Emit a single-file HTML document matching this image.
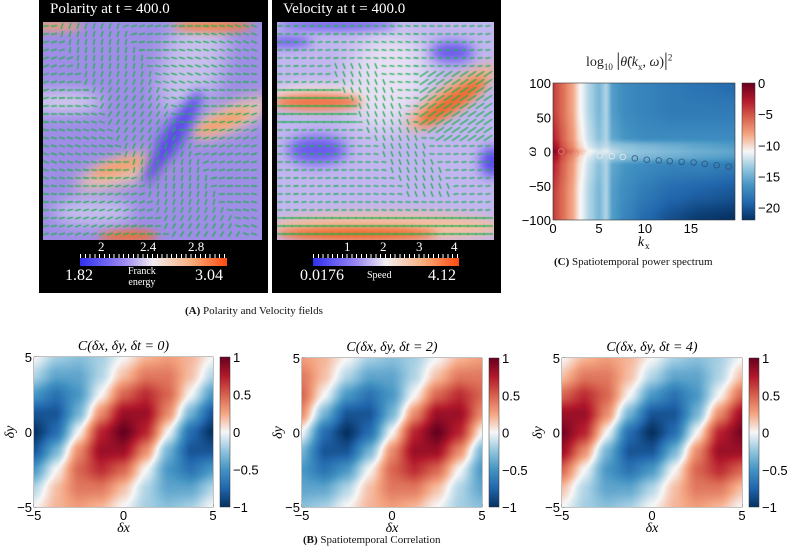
<!DOCTYPE html>
<html><head><meta charset="utf-8">
<style>
body{margin:0;background:#fff;width:787px;height:556px;overflow:hidden;position:relative;font-family:"Liberation Sans",sans-serif;}
.abs{position:absolute;}
.serif{font-family:"Liberation Serif",serif;}
canvas{position:absolute;}
.wt{position:absolute;color:#fff;font-family:"Liberation Serif",serif;}
</style></head><body>
<!-- Panel A -->
<div class="abs" style="left:39px;top:0;width:229px;height:293px;background:#000"></div>
<div class="abs" style="left:272px;top:0;width:229px;height:293px;background:#000"></div>
<div class="wt" style="left:50px;top:1px;font-size:15px">Polarity at t = 400.0</div>
<div class="wt" style="left:283px;top:1px;font-size:15px">Velocity at t = 400.0</div>
<canvas id="pol" width="219" height="218" style="left:43px;top:22px"></canvas>
<canvas id="vel" width="217" height="218" style="left:277px;top:22px"></canvas>
<div class="abs" style="left:80px;top:258px;width:147px;height:8px;background:linear-gradient(90deg,#3030f0,#9c88f0 30%,#f2eef0 50%,#f8b080 75%,#ff4a10)"></div>
<div class="abs" style="left:313px;top:258px;width:146px;height:8px;background:linear-gradient(90deg,#3030f0,#9c88f0 30%,#f2eef0 50%,#f8b080 75%,#ff4a10)"></div>
<div class="abs" style="left:80px;top:254px;width:147px;height:4px;background:repeating-linear-gradient(90deg,#fff 0 1px,transparent 1px 4.8px)"></div>
<div class="abs" style="left:313px;top:254px;width:146px;height:4px;background:repeating-linear-gradient(90deg,#fff 0 1px,transparent 1px 4.8px)"></div>
<div class="wt" style="left:98px;top:239px;font-size:13px">2</div>
<div class="wt" style="left:140px;top:239px;font-size:13px">2.4</div>
<div class="wt" style="left:188px;top:239px;font-size:13px">2.8</div>
<div class="wt" style="left:65px;top:267px;font-size:16px">1.82</div>
<div class="wt" style="left:195px;top:267px;font-size:16px">3.04</div>
<div class="wt" style="left:128px;top:266px;font-size:10px;text-align:center;line-height:11px">Franck<br>energy</div>
<div class="wt" style="left:344px;top:239px;font-size:13px">1</div>
<div class="wt" style="left:380px;top:239px;font-size:13px">2</div>
<div class="wt" style="left:416px;top:239px;font-size:13px">3</div>
<div class="wt" style="left:451px;top:239px;font-size:13px">4</div>
<div class="wt" style="left:300px;top:267px;font-size:16px">0.0176</div>
<div class="wt" style="left:367px;top:270px;font-size:10px">Speed</div>
<div class="wt" style="left:428px;top:267px;font-size:16px">4.12</div>
<div class="abs serif" style="left:185px;top:305px;font-size:11px;color:#111"><b>(A)</b> Polarity and Velocity fields</div>

<!-- Panel C -->
<div class="abs serif" style="left:586px;top:50px;font-size:14px;color:#222;white-space:nowrap">log<sub style="font-size:9px">10</sub> <span style="font-size:19px">|</span><i>θ̂</i>(<i>k</i><sub style="font-size:9px">x</sub>, <i>ω</i>)<span style="font-size:19px">|</span><sup style="font-size:9px">2</sup></div>
<canvas id="spec" width="182" height="137" style="left:553px;top:83px"></canvas>
<svg id="specsvg" class="abs" style="left:0;top:0" width="787" height="556"></svg>
<div class="abs serif" style="left:554px;top:256px;font-size:11px;color:#111"><b>(C)</b> Spatiotemporal power spectrum</div>

<!-- Panel B -->
<canvas id="c0" width="179" height="150" style="left:34px;top:357px"></canvas>
<canvas id="c2" width="180" height="149" style="left:302px;top:358px"></canvas>
<canvas id="c4" width="180" height="149" style="left:562px;top:358px"></canvas>
<div class="abs serif" style="left:303px;top:534px;font-size:11px;color:#111"><b>(B)</b> Spatiotemporal Correlation</div>

<script>
// ---------- Correlation data ----------
const corrX = [-5,-3.75,-2.5,-1.25,0,1.25,2.5,3.75,5];
const corrY = [5,3.75,2.5,1.25,0,-1.25,-2.5,-3.75,-5];
const corrDt0 = [
 [0,-.2,-.28,-.2,0,.2,.28,.2,0],
 [-.17,-.41,-.41,-.17,.17,.41,.41,.17,-.17],
 [-.48,-.68,-.48,0,.48,.68,.48,0,-.48],
 [-.83,-.83,-.34,.34,.83,.83,.34,-.34,-.83],
 [-1,-.71,0,.71,1,.71,0,-.71,-1],
 [-.83,-.34,.34,.83,.83,.34,-.34,-.83,-.83],
 [-.48,0,.48,.68,.48,0,-.48,-.68,-.48],
 [-.17,.17,.41,.41,.17,-.17,-.41,-.41,-.17],
 [0,.2,.28,.2,0,-.2,-.28,-.2,0]];
const corrDt2 = [
 [.28,.2,0,-.2,-.28,-.2,0,.2,.28],
 [.41,.17,-.17,-.41,-.41,-.17,.17,.41,.41],
 [.48,0,-.48,-.68,-.48,0,.48,.68,.48],
 [.34,-.34,-.83,-.83,-.34,.34,.83,.83,.34],
 [0,-.71,-1,-.71,0,.71,1,.71,0],
 [-.34,-.83,-.83,-.34,.34,.83,.83,.34,-.34],
 [-.48,-.68,-.48,0,.48,.68,.48,0,-.48],
 [-.41,-.41,-.17,.17,.41,.41,.17,-.17,-.41],
 [-.28,-.2,0,.2,.28,.2,0,-.2,-.28]];
const corrDt4 = [
 [0,.2,.28,.2,0,-.2,-.28,-.2,0],
 [.17,.41,.41,.17,-.17,-.41,-.41,-.17,.17],
 [.48,.68,.48,0,-.48,-.68,-.48,0,.48],
 [.83,.83,.34,-.34,-.83,-.83,-.34,.34,.83],
 [.95,.71,0,-.71,-1,-.71,0,.71,.95],
 [.83,.34,-.34,-.83,-.83,-.34,.34,.83,.83],
 [.48,0,-.48,-.68,-.48,0,.48,.68,.48],
 [.17,-.17,-.41,-.41,-.17,.17,.41,.41,.17],
 [0,-.2,-.28,-.2,0,.2,.28,.2,0]];
const corrTicks = [-5,0,5];
const corrCbTicks = [1,0.5,0,-0.5,-1];
const corrCbLabels = ['1','0.5','0','\u22120.5','\u22121'];
const corrTitles = ['0','2','4'];

// ---------- Spectrum data ----------
const specKx = [0,0.5,1,2,3,4,5,5.8,6.5,8,10,13,16,19.8];
const specW = [100,60,20,8,0,-8,-20,-60,-100];
const specVals = [
 [-4,-5,-6,-8,-11,-13,-14.5,-13,-16,-17,-17.5,-18,-18.5,-19],
 [-4,-5,-6,-8,-11,-13,-14.5,-13,-16,-17,-17.5,-18,-18,-18],
 [-3,-4,-5.5,-7.5,-10.5,-12.5,-14,-13,-15.5,-16.5,-17,-17,-17,-17],
 [-2,-3,-5,-7,-10,-12,-13,-12.5,-13.5,-14,-14.5,-15,-15.5,-16],
 [-0.5,-2,-4,-6,-9,-11,-12,-11.5,-12.5,-13.5,-14,-14.5,-15,-15.5],
 [-2,-3,-5,-7,-10,-12,-13,-12.5,-13.5,-14,-14.5,-15,-15.5,-16],
 [-3,-4,-5.5,-7.5,-10.5,-12.5,-14,-13,-15.5,-16.5,-17,-17.5,-17.5,-18],
 [-4,-5,-6,-8,-11,-13,-14.5,-13,-16,-17,-18,-19,-19.5,-20],
 [-4,-5,-6,-8,-11,-13,-14.5,-13,-16,-17.5,-19,-20.5,-21.5,-22]];
const peakKx = [0.9,2.5,3.8,5.1,6.4,7.6,8.9,10.2,11.5,12.7,14,15.3,16.5,17.8,19.1];
const peakW = [0,-3,-4,-6,-7,-8,-10,-12,-13,-14,-15,-16,-18,-20,-22];
const specXTicks = [0,5,10,15];
const specYTicks = [100,50,0,-50,-100];
const specCbTicks = [0,-5,-10,-15,-20];

// ---------- helpers ----------
const RdBu = [[5,48,97],[33,102,172],[67,147,195],[146,197,222],[247,247,247],[244,165,130],[214,96,77],[178,24,43],[103,0,31]];
function cmap(t){
  t=Math.max(0,Math.min(1,t)); const p=t*8; const i=Math.min(7,Math.floor(p)); const f=p-i;
  return RdBu[i].map((c,k)=>c+(RdBu[i+1][k]-c)*f);
}
function locate(arr,v){
  const asc=arr[arr.length-1]>arr[0];
  for(let i=0;i<arr.length-1;i++){
    const a=arr[i],b=arr[i+1];
    if(asc? (v>=a&&v<=b):(v<=a&&v>=b)) return [i,(v-a)/(b-a)];
  }
  return [0,0];
}
function bilin(xs,ys,grid,x,y){
  const [i,fx]=locate(xs,x), [j,fy]=locate(ys,y);
  const sm=t=>t*t*(3-2*t);
  const gx=sm(fx), gy=sm(fy);
  const a=grid[j][i],b=grid[j][i+1],c=grid[j+1][i],d=grid[j+1][i+1];
  const lx=fx*0.5+gx*0.5, ly=fy*0.5+gy*0.5;
  return (a*(1-lx)+b*lx)*(1-ly)+(c*(1-lx)+d*lx)*ly;
}
function drawHeat(cv,xs,ys,grid,x0,x1,y0,y1,vmin,vmax){
  const ctx=cv.getContext('2d'),W=cv.width,H=cv.height,img=ctx.createImageData(W,H);
  for(let py=0;py<H;py++){const y=y1+(y0-y1)*(py+0.5)/H;
    for(let px=0;px<W;px++){const x=x0+(x1-x0)*(px+0.5)/W;
      const v=bilin(xs,ys,grid,x,y);const c=cmap((v-vmin)/(vmax-vmin));const o=(py*W+px)*4;
      img.data[o]=c[0];img.data[o+1]=c[1];img.data[o+2]=c[2];img.data[o+3]=255;}}
  ctx.putImageData(img,0,0);
}
const svg=document.getElementById('specsvg');const NS='http://www.w3.org/2000/svg';
function el(tag,attrs,text){const e=document.createElementNS(NS,tag);for(const k in attrs)e.setAttribute(k,attrs[k]);if(text!==undefined)e.textContent=text;svg.appendChild(e);return e;}
function gradBar(id,x,y,w,h){
  const g=el('linearGradient',{id:id,x1:0,y1:1,x2:0,y2:0});
  RdBu.forEach((c,i)=>{const s=document.createElementNS(NS,'stop');s.setAttribute('offset',i/8);s.setAttribute('stop-color','rgb('+c.join(',')+')');g.appendChild(s);});
  return el('rect',{x:x,y:y,width:w,height:h,fill:'url(#'+id+')',stroke:'#333','stroke-width':0.5});
}

// ---------- Correlation panels ----------
const corrPanels=[{cv:'c0',x:34,y:357,w:179,h:150,g:corrDt0},{cv:'c2',x:302,y:358,w:180,h:149,g:corrDt2},{cv:'c4',x:562,y:358,w:180,h:149,g:corrDt4}];
corrPanels.forEach((p,pi)=>{
  drawHeat(document.getElementById(p.cv),corrX,corrY,p.g,-5,5,-5,5,-1,1);
  const sx=v=>p.x+(v+5)/10*p.w, sy=v=>p.y+(5-v)/10*p.h;
  const fr=el('rect',{x:p.x,y:p.y,width:p.w,height:p.h,fill:'none',stroke:'#333','stroke-width':0.6});
  
  corrTicks.forEach(t=>{
    const a=el('text',{x:sx(t),y:p.y+p.h+13,'font-size':13,'text-anchor':'middle','font-family':'Liberation Sans'},t<0?'\u2212'+(-t):''+t);
    
    const b=el('text',{x:p.x-2,y:sy(t)+5,'font-size':13,'text-anchor':'end','font-family':'Liberation Sans'},t<0?'\u2212'+(-t):''+t);
    
    el('line',{x1:sx(t),x2:sx(t),y1:p.y+p.h,y2:p.y+p.h-3,stroke:'#333','stroke-width':0.6});
    el('line',{x1:p.x,x2:p.x+3,y1:sy(t),y2:sy(t),stroke:'#333','stroke-width':0.6});
  });
  const xl=el('text',{x:p.x+p.w/2,y:p.y+p.h+25,'font-size':14,'text-anchor':'middle','font-family':'Liberation Serif','font-style':'italic'},'δx');
  
  const yl=el('text',{x:0,y:0,'font-size':14,'text-anchor':'middle','font-family':'Liberation Serif','font-style':'italic',transform:'translate('+(p.x-20)+','+(p.y+p.h/2)+') rotate(-90)'},'δy');
  
  const tt=el('text',{x:p.x+p.w/2,y:p.y-7,'font-size':14,'text-anchor':'middle','font-family':'Liberation Serif','font-style':'italic'},'C(δx, δy, δt = '+corrTitles[pi]+')');
  
  const cbx=p.x+p.w+7, cbw=10;
  const cb=gradBar('cg'+pi,cbx,p.y,cbw,p.h);
  
  corrCbTicks.forEach((t,k)=>{
    const yy=p.y+(1-t)/2*p.h;
    const l=el('text',{x:cbx+cbw+3,y:yy+5,'font-size':13,'font-family':'Liberation Sans'},corrCbLabels[k]);
    
  });
});

// ---------- Spectrum ----------
(function(){
  const X0=553,Y0=83,W=182,H=137,kmax=19.8;
  drawHeat(document.getElementById('spec'),specKx,specW,specVals,0,kmax,-100,100,-22,0);
  const sx=v=>X0+v/kmax*W, sy=v=>Y0+(100-v)/200*H;
  const fr=el('rect',{x:X0,y:Y0,width:W,height:H,fill:'none',stroke:'#333','stroke-width':0.6});
  
  peakKx.forEach((k,i)=>{
    const col=k<3?'#e89080':(k<8?'#f0f0f0':'#2a4d70');
    const c=el('circle',{cx:sx(k),cy:sy(peakW[i]),r:2.8,fill:'none',stroke:col,'stroke-width':0.9,opacity:0.8});
    
  });
  specXTicks.forEach(t=>{
    const a=el('text',{x:sx(t),y:Y0+H+13,'font-size':13,'text-anchor':'middle','font-family':'Liberation Sans'},''+t);
    
  });
  specYTicks.forEach(t=>{
    const a=el('text',{x:X0-2,y:sy(t)+5,'font-size':13,'text-anchor':'end','font-family':'Liberation Sans'},t<0?'\u2212'+(-t):''+t);
    
  });
  const xl=el('text',{x:X0+W/2-3,y:Y0+H+26,'font-size':14,'text-anchor':'middle','font-family':'Liberation Serif','font-style':'italic'},'k');
  
  el('text',{x:X0+W/2+1,y:Y0+H+29,'font-size':9,'font-family':'Liberation Serif'},'x');
  const yl=el('text',{x:0,y:0,'font-size':14,'text-anchor':'middle','font-family':'Liberation Serif','font-style':'italic',transform:'translate('+(X0-17)+','+(Y0+H/2)+') rotate(-90)'},'ω');
  
  const cbx=742,cbw=13;
  const cb=gradBar('sg',cbx,Y0,cbw,H);
  
  specCbTicks.forEach(t=>{
    const yy=Y0+(-t)/22*H;
    const l=el('text',{x:cbx+cbw+3,y:yy+5,'font-size':13,'font-family':'Liberation Sans'},t<0?'\u2212'+(-t):''+t);
    
  });
})();

// ---------- Polarity & velocity fields ----------
function blob(ctx,x,y,rx,ry,rot,col,blur){ctx.save();ctx.filter='blur('+blur+'px)';ctx.fillStyle=col;ctx.beginPath();ctx.ellipse(x,y,rx,ry,rot,0,Math.PI*2);ctx.fill();ctx.restore();}
(function(){
  const ctx=document.getElementById('pol').getContext('2d');
  ctx.fillStyle='#9f8ee6';ctx.fillRect(0,0,219,218);
  blob(ctx,20,80,40,10,0,'#d8d0ee',8);
  blob(ctx,150,40,30,60,0.3,'#c9bfee',10);
  blob(ctx,80,150,50,12,-0.3,'#f0c8b0',8);
  blob(ctx,190,95,45,12,-0.4,'#f0c8b0',8);
  blob(ctx,75,145,28,7,-0.3,'#f4a070',5);
  blob(ctx,180,100,30,7,-0.4,'#f4a070',5);
  blob(ctx,170,4,40,6,0,'#f08040',4);
  blob(ctx,10,4,30,5,0,'#f0a070',4);
  blob(ctx,85,214,30,6,0,'#f07030',4);
  blob(ctx,130,115,10,55,0.55,'#5a4ae8',6);
  blob(ctx,50,190,40,14,0,'#c8bfee',8);
  ctx.strokeStyle='#20b050';ctx.lineWidth=1.3;
  for(let gy=4;gy<218;gy+=8)for(let gx=3;gx<219;gx+=8){
    let a=0.35*Math.sin(gy/30+gx/50);
    const d=(gx-105)-(gy-110)*0.55; if(Math.abs(d)<35)a=1.2+0.2*Math.sin(gy/20);
    ctx.beginPath();ctx.moveTo(gx-3*Math.cos(a),gy+3*Math.sin(a));ctx.lineTo(gx+3*Math.cos(a),gy-3*Math.sin(a));ctx.stroke();}
})();
(function(){
  const ctx=document.getElementById('vel').getContext('2d');
  ctx.fillStyle='#c2b6f0';ctx.fillRect(0,0,217,218);
  blob(ctx,110,60,40,50,0.3,'#e8e0f4',12);
  blob(ctx,40,75,50,12,0,'#f5e8e8',6);
  blob(ctx,40,80,45,8,0,'#f07040',5);
  blob(ctx,175,75,55,14,-0.6,'#f2b090',6);
  blob(ctx,175,80,40,9,-0.6,'#f06a30',5);
  blob(ctx,110,205,120,14,0,'#f4c0a0',6);
  blob(ctx,80,212,80,6,0,'#f06020',4);
  blob(ctx,40,128,30,14,0,'#6a58ec',7);
  blob(ctx,175,30,22,10,0,'#6a58ec',6);
  blob(ctx,60,3,60,5,0,'#6a58ec',5);
  blob(ctx,10,20,25,5,0,'#6a58ec',5);
  blob(ctx,215,140,12,15,0,'#5a48ec',6);
  ctx.strokeStyle='#20b050';ctx.lineWidth=1.3;
  for(let gy=4;gy<218;gy+=8)for(let gx=3;gx<217;gx+=8){
    let a=0.15*Math.sin(gx/25);let L=2.5;
    if(gy>60&&gy<105&&gx<80){L=5;a=0;}
    if(gy>190){L=5;a=0;}
    const d=(gx-110)-(gy-100)*0.6; if(Math.abs(d)<25&&gy>40&&gy<180){a=-1.2;L=3;}
    if(gx>140&&gy>50&&gy<120&&(gx-140)+(gy-120)*-1>20){a=0.6;L=5;}
    ctx.beginPath();ctx.moveTo(gx-L*Math.cos(a),gy+L*Math.sin(a));ctx.lineTo(gx+L*Math.cos(a),gy-L*Math.sin(a));ctx.stroke();}
})();
</script>
</body></html>
